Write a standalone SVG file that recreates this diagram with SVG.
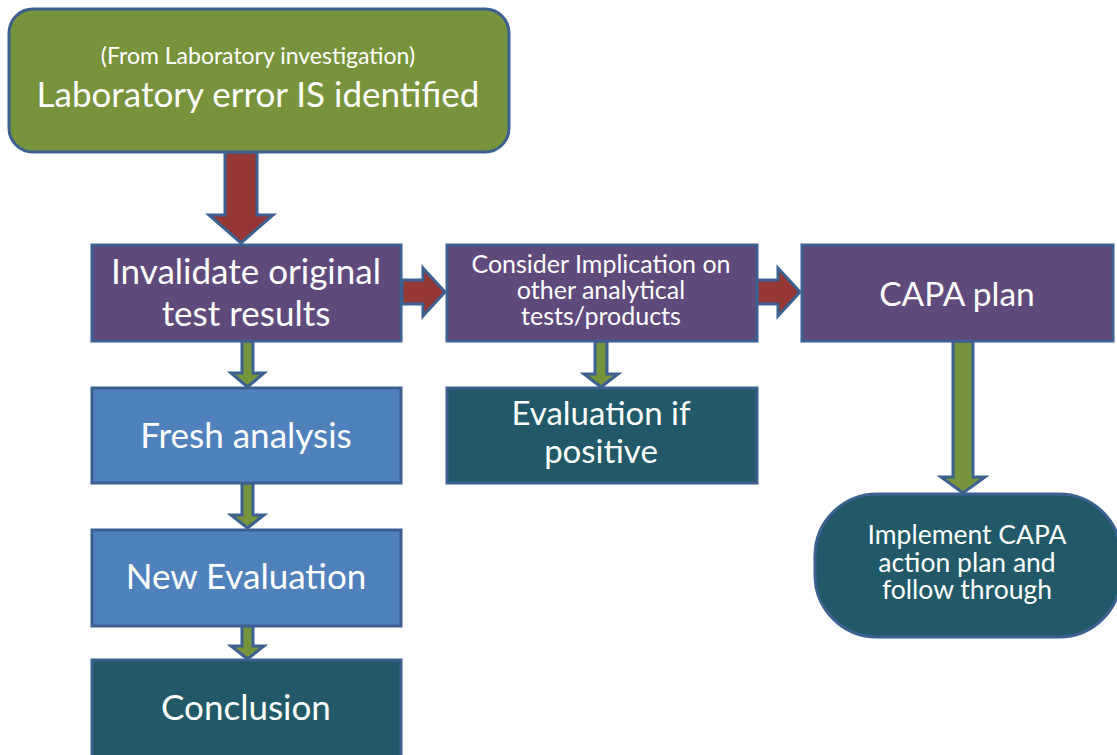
<svg xmlns="http://www.w3.org/2000/svg" width="1117" height="755" viewBox="0 0 1117 755">
<style>
.box{stroke:#3C6191;stroke-width:3}
.green{fill:#77933C}
.purple{fill:#604A7B}
.blue{fill:#4F81BD}
.teal{fill:#215968}
.red{fill:#953735;stroke:#3C6191;stroke-width:3;stroke-linejoin:miter}
.garr{fill:#77933C;stroke:#3C6191;stroke-width:3;stroke-linejoin:miter}
text{font-family:Lato,"Liberation Sans",sans-serif;fill:#FFFFFF;text-anchor:middle}
.l{font-size:35px}
.m{font-size:25px}
.s{font-size:23px}
</style>
<rect width="1117" height="755" fill="#FFFFFF"/>
<g id="connectors">
<polygon class="red" points="225,152 257,152 257,215 273,215 241,243 209,215 225,215"/>
<polygon class="red" points="402,280 423,280 423,268 445,292 423,316 423,304 402,304"/>
<polygon class="red" points="757,280 778,280 778,268 800,292 778,316 778,304 757,304"/>
<polygon class="garr" points="242,341 253,341 253,373 264,373 247.5,387 231,373 242,373"/>
<polygon class="garr" points="242,483 253,483 253,515 264,515 247.5,528 231,515 242,515"/>
<polygon class="garr" points="242,626 253,626 253,646 264,646 247.5,659 231,646 242,646"/>
<polygon class="garr" points="595,341 607,341 607,374 618,374 601,387 584,374 595,374"/>
<polygon class="garr" points="953,341 973,341 973,477 985,477 963,493 941,477 953,477"/>
</g>
<g id="n-top">
<rect class="box green" x="9" y="9" width="500" height="143" rx="24"/>
<text class="s" x="258" y="64">(From Laboratory investigation)</text>
<text x="258" y="107" style="font-size:35px">Laboratory error IS identified</text>
</g>
<g id="n-invalidate">
<rect class="box purple" x="92" y="245" width="309" height="96"/>
<text class="l" x="246" y="284">Invalidate original</text>
<text class="l" x="246" y="326">test results</text>
</g>
<g id="n-consider">
<rect class="box purple" x="447" y="245" width="310" height="96"/>
<text class="m" x="601" y="273">Consider Implication on</text>
<text class="m" x="601" y="299">other analytical</text>
<text class="m" x="601" y="325">tests/products</text>
</g>
<g id="n-capa">
<rect class="box purple" x="802" y="245" width="311" height="96"/>
<text x="957" y="306" style="font-size:33.5px">CAPA plan</text>
</g>
<g id="n-fresh">
<rect class="box blue" x="92" y="388" width="309" height="95"/>
<text class="l" x="246" y="448">Fresh analysis</text>
</g>
<g id="n-evalpos">
<rect class="box teal" x="447" y="388" width="310" height="95"/>
<text x="601" y="425" style="font-size:33px">Evaluation if</text>
<text x="601" y="463" style="font-size:33px">positive</text>
</g>
<g id="n-neweval">
<rect class="box blue" x="92" y="530" width="309" height="96"/>
<text class="l" x="246" y="589">New Evaluation</text>
</g>
<g id="n-conclusion">
<rect class="box teal" x="92" y="660" width="309" height="100"/>
<text class="l" x="246" y="720">Conclusion</text>
</g>
<g id="n-implement">
<rect class="box teal" x="815" y="494" width="306" height="143" rx="62"/>
<text x="967" y="544" style="font-size:26.5px">Implement CAPA</text>
<text x="967" y="572" style="font-size:26.5px">action plan and</text>
<text x="967" y="599" style="font-size:26.5px">follow through</text>
</g>
</svg>
